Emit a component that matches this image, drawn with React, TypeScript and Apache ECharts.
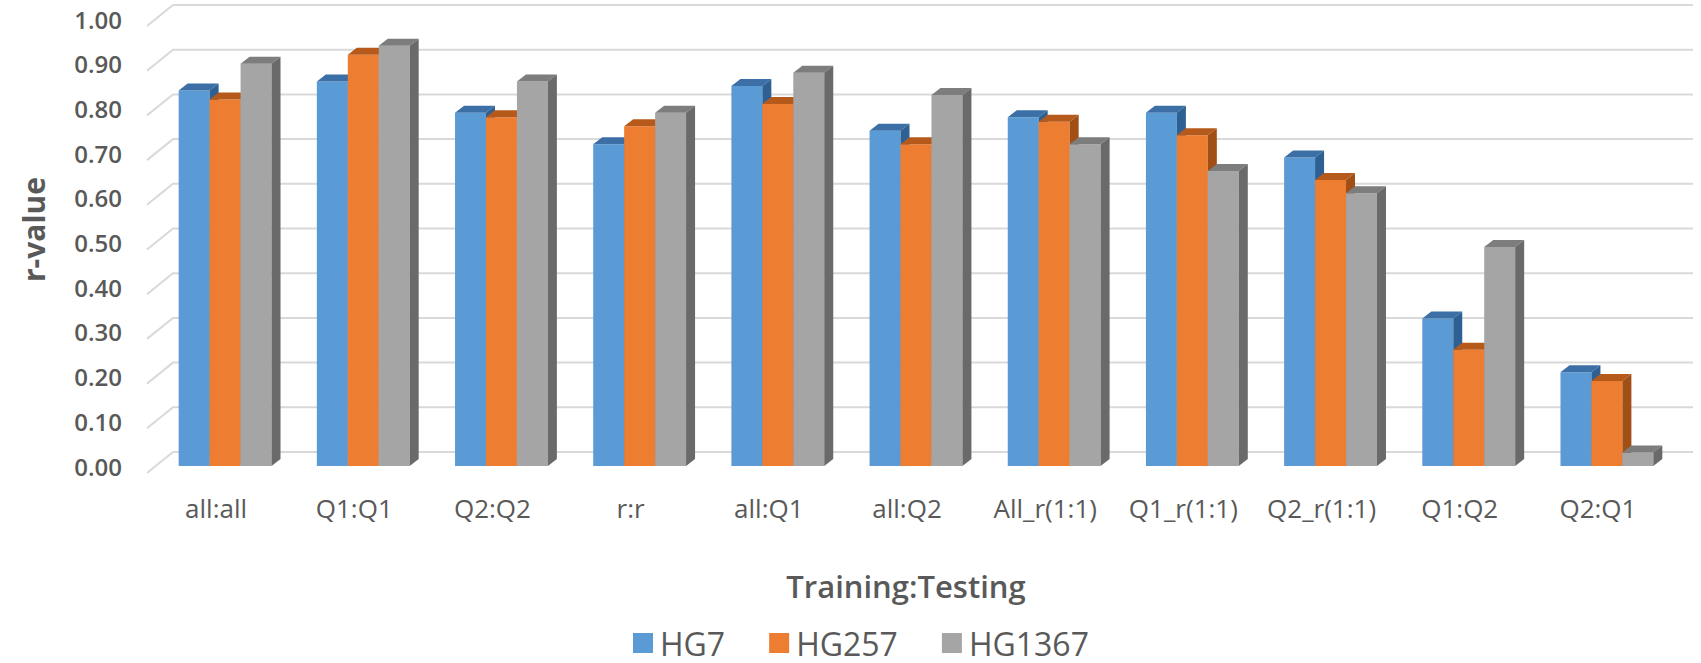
import React, { useEffect, useRef } from "react";
import * as echarts from "echarts";

const categories = ["all:all", "Q1:Q1", "Q2:Q2", "r:r", "all:Q1", "all:Q2", "All_r(1:1)", "Q1_r(1:1)", "Q2_r(1:1)", "Q1:Q2", "Q2:Q1"];
const seriesNames = ["HG7", "HG257", "HG1367"];
const hg7 = [0.84, 0.86, 0.79, 0.72, 0.85, 0.75, 0.78, 0.79, 0.69, 0.33, 0.21];
const hg257 = [0.82, 0.92, 0.78, 0.76, 0.81, 0.72, 0.77, 0.74, 0.64, 0.26, 0.19];
const hg1367 = [0.9, 0.94, 0.86, 0.79, 0.88, 0.83, 0.72, 0.66, 0.61, 0.49, 0.03];
const yTicks = [0, 0.1, 0.2, 0.3, 0.4, 0.5, 0.6, 0.7, 0.8, 0.9, 1.0];

const FRONT = ["#5B9BD5", "#ED7D31", "#A5A5A5"];
const TOP = ["#3C6FA6", "#B65A1C", "#7D7D7D"];
const SIDE = ["#2F6094", "#A24F16", "#6A6A6A"];

const DX = 9;
const DY = 7;
const BAR_RATIO = 0.224;
const BACK_DX = 17;
const BACK_DY = 14;
const FRONT_DX = 9;
const FRONT_DY = 7;
const FONT = "'Open Sans', 'Noto Sans', sans-serif";
const TEXT = "#595959";

const makeBar = (k: number) => (params: any, api: any) => {
  const ci = api.value(0);
  const v = api.value(1);
  const top = api.coord([ci, v]);
  const base = api.coord([ci, 0]);
  const bandW = api.size([1, 0])[0];
  const bw = bandW * BAR_RATIO;
  const x0 = top[0] + (k - 1.5) * bw;
  const x1 = x0 + bw;
  const yt = top[1];
  const yb = base[1];
  return {
    type: "group",
    children: [
      { type: "rect", shape: { x: x0, y: yt, width: bw, height: yb - yt }, style: { fill: FRONT[k] } },
      {
        type: "polygon",
        shape: { points: [[x0, yt], [x0 + DX, yt - DY], [x1 + DX, yt - DY], [x1, yt]] },
        style: { fill: TOP[k] },
      },
      {
        type: "polygon",
        shape: { points: [[x1, yt], [x1 + DX, yt - DY], [x1 + DX, yb - DY], [x1, yb]] },
        style: { fill: SIDE[k] },
      },
    ],
  };
};

const gridRender = (params: any, api: any) => {
  const cs = params.coordSys;
  const yb = api.coord([0, api.value(1)])[1];
  const y = yb - BACK_DY;
  return {
    type: "polyline",
    shape: {
      points: [
        [cs.x - FRONT_DX, yb + FRONT_DY],
        [cs.x + BACK_DX, y],
        [cs.x + cs.width + BACK_DX, y],
      ],
    },
    style: { stroke: "#D9D9D9", lineWidth: 2, fill: null },
  };
};

export default function App() {
  const ref = useRef<HTMLDivElement>(null);
  useEffect(() => {
    document.body.style.margin = "0";
    const chart = echarts.init(ref.current!, undefined, { renderer: "svg" });
    const values = [hg7, hg257, hg1367];
    chart.setOption({
      animation: false,
      backgroundColor: "#FFFFFF",
      textStyle: { fontFamily: FONT },
      grid: { left: 156, top: 19, width: 1520, height: 447 },
      legend: {
        data: seriesNames.map((n) => ({ name: n, icon: "rect" })),
        bottom: 4,
        left: 633,
        padding: 0,
        itemWidth: 20,
        itemHeight: 20,
        itemGap: 44,
        textStyle: { fontSize: 32, lineHeight: 32, color: TEXT, fontFamily: FONT, padding: [0, 0, 0, 2] },
      },
      xAxis: {
        type: "category",
        data: categories,
        axisLine: { show: false },
        axisTick: { show: false },
        splitLine: { show: false },
        axisLabel: { fontSize: 26, color: TEXT, margin: 29, padding: [0, 18, 0, 0], interval: 0 },
        name: "Training:Testing",
        nameLocation: "middle",
        nameGap: 104,
        nameTextStyle: { fontSize: 31, fontWeight: 600, color: TEXT, padding: [0, 20, 0, 0] },
      },
      yAxis: {
        type: "value",
        min: 0,
        max: 1,
        interval: 0.1,
        axisLine: { show: false },
        axisTick: { show: false },
        splitLine: { show: false },
        axisLabel: {
          fontSize: 24,
          fontWeight: 600,
          color: TEXT,
          margin: 34,
          padding: [14, 0, 0, 0],
          formatter: (v: number) => v.toFixed(2),
        },
        name: "r-value",
        nameLocation: "middle",
        nameGap: 108,
        nameRotate: 90,
        nameTextStyle: { fontSize: 30, fontWeight: 700, color: TEXT, padding: [0, 0, 0, 26] },
      },
      series: [
        {
          type: "custom",
          name: "gridlines",
          silent: true,
          z: 1,
          renderItem: gridRender,
          encode: { x: 0, y: 1 },
          data: yTicks.map((v) => [0, v]),
        },
        ...seriesNames.map((n, k) => ({
          type: "custom",
          name: n,
          z: 2,
          itemStyle: { color: FRONT[k] },
          renderItem: makeBar(k),
          encode: { x: 0, y: 1 },
          data: values[k].map((v, i) => [i, v]),
        })),
      ],
    });
    return () => chart.dispose();
  }, []);
  return <div ref={ref} style={{ width: 1701, height: 663 }} />;
}
